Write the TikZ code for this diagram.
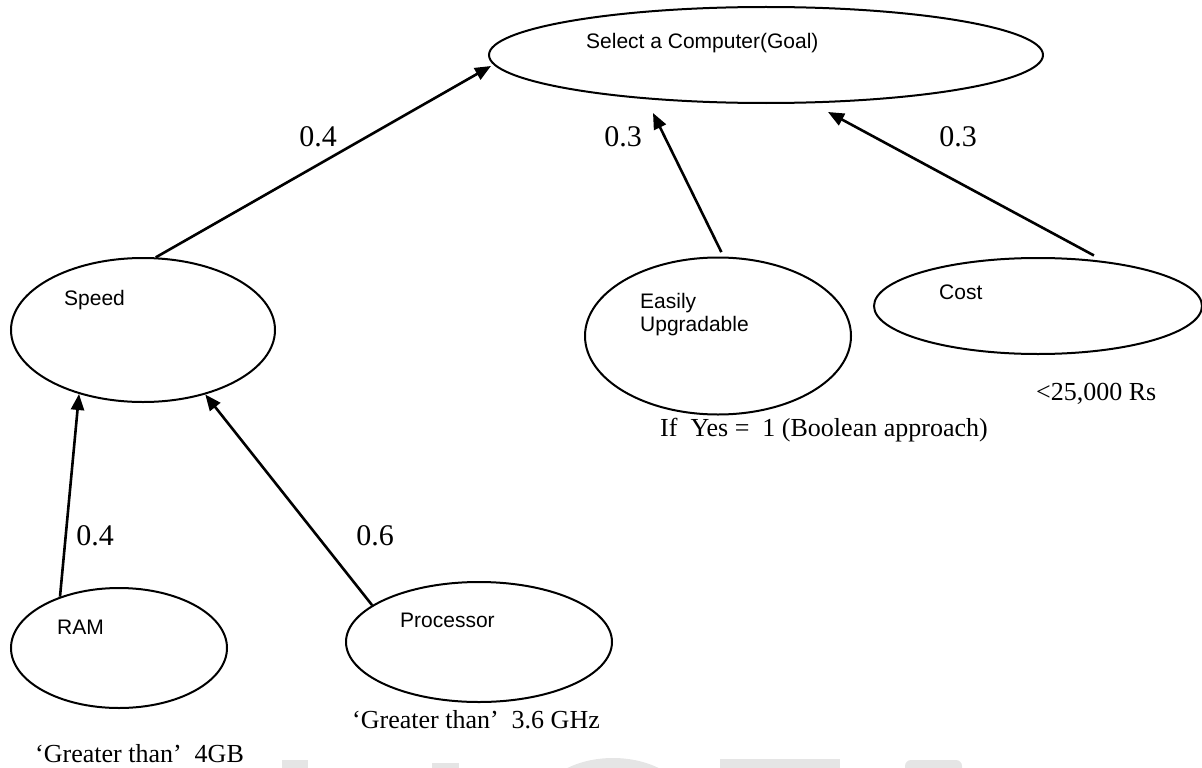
\documentclass[tikz,border=0pt]{standalone}
\usepackage{fontspec}
\setmainfont{Liberation Serif}
\setsansfont{Liberation Sans}
\usetikzlibrary{shapes.geometric,arrows.meta}
\begin{document}
\begin{tikzpicture}[x=1pt,y=-1pt,
  oval/.style={draw, ellipse, line width=2pt, inner sep=0pt},
  arr/.style={line width=2.6pt, -{Triangle[length=16pt,width=13pt]}},
  lbl/.style={font=\sffamily\fontsize{21}{23}\selectfont, inner sep=0pt, align=left, anchor=west},
  wt/.style={font=\fontsize{30}{34}\selectfont, inner sep=0pt},
  note/.style={font=\fontsize{26}{30}\selectfont, inner sep=0pt, anchor=west},
  wm/.style={fill=black!10}]
\useasboundingbox (0,0) rectangle (1202,768);
% faint watermark at the bottom edge
\begin{scope}
  \clip (0,0) rectangle (1202,768);
  \fill[wm] (282,760) rectangle (308,770);
  \fill[wm] (432,763) rectangle (459,770);
  \fill[wm] (613,808) ellipse [x radius=76, y radius=50];
  \fill[wm] (720,759) rectangle (840,770);
  \fill[wm, rounded corners=6pt] (905,760) rectangle (962,776);
\end{scope}
% ellipses
\node[oval, minimum width=554pt, minimum height=96pt] (goal) at (766,55) {};
\node[oval, minimum width=264pt, minimum height=144pt] (speed) at (143,330) {};
\node[oval, minimum width=266pt, minimum height=157pt] (easy) at (718,336) {};
\node[oval, minimum width=328pt, minimum height=96pt] (cost) at (1038,306) {};
\node[oval, minimum width=216pt, minimum height=120pt] (ram) at (119,648) {};
\node[oval, minimum width=266pt, minimum height=120pt] (proc) at (479,642) {};
% texts inside
\node[lbl] (goaltxt) at (586,43) {Select a Computer(Goal)};
\node[lbl] (speedtxt) at (64,300) {Speed};
\node[lbl] (easytxt) at (640,315) {Easily\\Upgradable};
\node[lbl] (costtxt) at (939,292) {Cost};
\node[lbl] (ramtxt) at (57,627) {RAM};
\node[lbl] (proctxt) at (400,620) {Processor};
% weights
\node[wt] (w1) at (318,137) {0.4};
\node[wt] (w2) at (623,137) {0.3};
\node[wt] (w3) at (958,137) {0.3};
\node[wt] (w4) at (95,536) {0.4};
\node[wt] (w5) at (375,536) {0.6};
% notes
\node[note] (n1) at (352,720) {‘Greater than’~ 3.6 GHz};
\node[note] (n2) at (35,754) {‘Greater than’~ 4GB};
\node[note] (n3) at (660,430) {If~ Yes =~ 1 (Boolean approach)};
\node[note] (n4) at (1036,394) {<25,000 Rs};
% arrow tips
\coordinate (gA) at (491,66);
\coordinate (gB) at (653,113);
\coordinate (gC) at (828,112);
% connectors
\draw[arr] (speed.80.5) -- (gA);
\draw[arr, shorten <=5pt] (easy.86.6) -- (gB);
\draw[arr, shorten <=12pt] (cost.34) -- (gC);
\draw[arr] (ram.139.7) -- (speed.225.5);
\draw[arr] (proc.161.7) -- (speed.314.1);
\end{tikzpicture}
\end{document}
